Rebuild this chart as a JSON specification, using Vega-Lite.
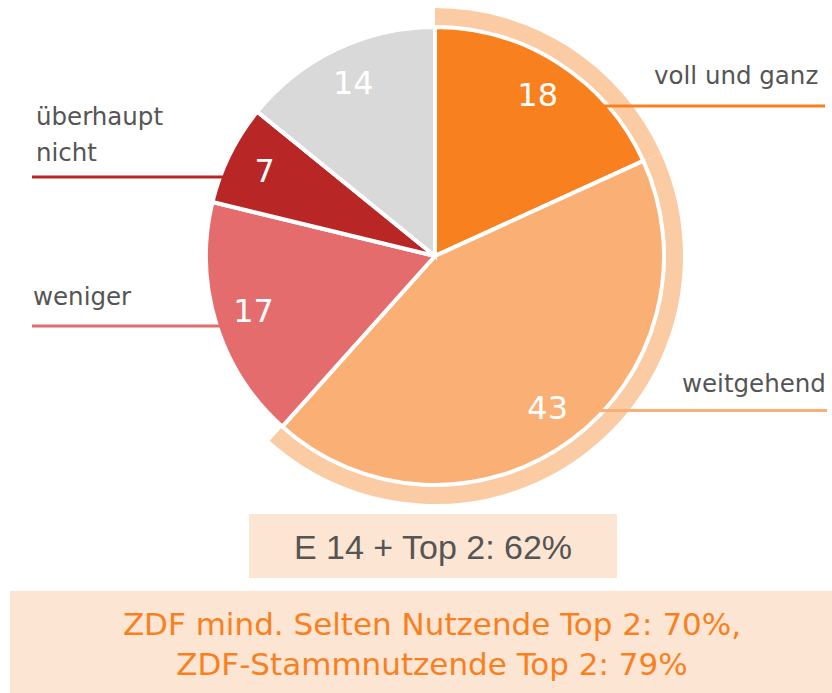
{
  "$schema": "https://vega.github.io/schema/vega-lite/v6.json",
  "width": 832,
  "height": 693,
  "padding": 0,
  "autosize": {"type": "fit", "contains": "padding"},
  "background": "white",
  "config": {"view": {"stroke": null}},
  "datasets": {
    "pie": [
      {"cat": "voll und ganz", "value": 18, "idx": 1},
      {"cat": "weitgehend", "value": 43, "idx": 2},
      {"cat": "weniger", "value": 17, "idx": 3},
      {"cat": "überhaupt nicht", "value": 7, "idx": 4},
      {"cat": "keine Angabe", "value": 14, "idx": 5}
    ]
  },
  "layer": [
    {
      "data": {"name": "pie"},
      "mark": {"type": "arc", "outerRadius": 229, "stroke": "white", "strokeWidth": 4},
      "encoding": {
        "x": {"datum": 435, "type": "quantitative", "scale": {"domain": [0, 832], "nice": false, "zero": false}, "axis": null},
        "y": {"datum": 256, "type": "quantitative", "scale": {"domain": [0, 693], "nice": false, "zero": false, "reverse": true}, "axis": null},
        "theta": {"field": "value", "type": "quantitative", "stack": true},
        "order": {"field": "idx", "type": "quantitative"},
        "color": {
          "field": "cat", "type": "nominal", "legend": null,
          "scale": {
            "domain": ["voll und ganz", "weitgehend", "weniger", "überhaupt nicht", "keine Angabe"],
            "range": ["#F9801E", "#FAB074", "#E46C6C", "#B92626", "#D9D9D9"]
          }
        }
      }
    },
    {
      "data": {"name": "pie"},
      "mark": {"type": "arc", "outerRadius": 248, "innerRadius": 231},
      "encoding": {
        "x": {"datum": 435, "type": "quantitative", "scale": {"domain": [0, 832], "nice": false, "zero": false}, "axis": null},
        "y": {"datum": 256, "type": "quantitative", "scale": {"domain": [0, 693], "nice": false, "zero": false, "reverse": true}, "axis": null},
        "theta": {"field": "value", "type": "quantitative", "stack": true},
        "order": {"field": "idx", "type": "quantitative"},
        "detail": {"field": "cat", "type": "nominal"},
        "color": {
          "condition": {"test": "datum.cat === 'voll und ganz' || datum.cat === 'weitgehend'", "value": "#FBCBA4"},
          "value": "transparent"
        }
      }
    },
    {
      "data": {"name": "pie"},
      "mark": {"type": "text", "radius": 190, "font": "DejaVu Sans", "fontSize": 32, "color": "white", "align": "center", "baseline": "middle"},
      "encoding": {
        "x": {"datum": 435, "type": "quantitative", "scale": {"domain": [0, 832], "nice": false, "zero": false}, "axis": null},
        "y": {"datum": 256, "type": "quantitative", "scale": {"domain": [0, 693], "nice": false, "zero": false, "reverse": true}, "axis": null},
        "theta": {"field": "value", "type": "quantitative", "stack": true},
        "order": {"field": "idx", "type": "quantitative"},
        "detail": {"field": "cat", "type": "nominal"},
        "text": {"field": "value", "type": "quantitative"}
      }
    },
    {
      "data": {"values": [{"cat": "voll und ganz"}]},
      "mark": {"type": "rule", "color": "#F9801E", "strokeWidth": 3},
      "encoding": {
        "x": {"datum": 603, "type": "quantitative", "scale": {"domain": [0, 832], "nice": false, "zero": false}, "axis": null},
        "x2": {"datum": 825},
        "y": {"datum": 106, "type": "quantitative", "scale": {"domain": [0, 693], "nice": false, "zero": false, "reverse": true}, "axis": null}
      }
    },
    {
      "data": {"values": [{"cat": "weitgehend"}]},
      "mark": {"type": "rule", "color": "#FAB074", "strokeWidth": 3},
      "encoding": {
        "x": {"datum": 598, "type": "quantitative", "scale": {"domain": [0, 832], "nice": false, "zero": false}, "axis": null},
        "x2": {"datum": 827},
        "y": {"datum": 410.5, "type": "quantitative", "scale": {"domain": [0, 693], "nice": false, "zero": false, "reverse": true}, "axis": null}
      }
    },
    {
      "data": {"values": [{"cat": "überhaupt nicht"}]},
      "mark": {"type": "rule", "color": "#B92626", "strokeWidth": 3},
      "encoding": {
        "x": {"datum": 32, "type": "quantitative", "scale": {"domain": [0, 832], "nice": false, "zero": false}, "axis": null},
        "x2": {"datum": 225},
        "y": {"datum": 177, "type": "quantitative", "scale": {"domain": [0, 693], "nice": false, "zero": false, "reverse": true}, "axis": null}
      }
    },
    {
      "data": {"values": [{"cat": "weniger"}]},
      "mark": {"type": "rule", "color": "#E46C6C", "strokeWidth": 3},
      "encoding": {
        "x": {"datum": 32, "type": "quantitative", "scale": {"domain": [0, 832], "nice": false, "zero": false}, "axis": null},
        "x2": {"datum": 222},
        "y": {"datum": 326, "type": "quantitative", "scale": {"domain": [0, 693], "nice": false, "zero": false, "reverse": true}, "axis": null}
      }
    },
    {
      "data": {"values": [{"label": "voll und ganz"}]},
      "mark": {"type": "text", "font": "DejaVu Sans", "fontSize": 24.5, "color": "#555555", "align": "left", "baseline": "alphabetic"},
      "encoding": {
        "x": {"datum": 654, "type": "quantitative", "scale": {"domain": [0, 832], "nice": false, "zero": false}, "axis": null},
        "y": {"datum": 84, "type": "quantitative", "scale": {"domain": [0, 693], "nice": false, "zero": false, "reverse": true}, "axis": null},
        "text": {"field": "label"}
      }
    },
    {
      "data": {"values": [{"label": "weitgehend"}]},
      "mark": {"type": "text", "font": "DejaVu Sans", "fontSize": 24.5, "color": "#555555", "align": "left", "baseline": "alphabetic"},
      "encoding": {
        "x": {"datum": 682, "type": "quantitative", "scale": {"domain": [0, 832], "nice": false, "zero": false}, "axis": null},
        "y": {"datum": 392, "type": "quantitative", "scale": {"domain": [0, 693], "nice": false, "zero": false, "reverse": true}, "axis": null},
        "text": {"field": "label"}
      }
    },
    {
      "data": {"values": [{"label": "überhaupt nicht"}]},
      "mark": {"type": "text", "font": "DejaVu Sans", "fontSize": 24.5, "color": "#555555", "align": "left", "baseline": "alphabetic", "lineHeight": 36, "text": ["überhaupt", "nicht"]},
      "encoding": {
        "x": {"datum": 36, "type": "quantitative", "scale": {"domain": [0, 832], "nice": false, "zero": false}, "axis": null},
        "y": {"datum": 125, "type": "quantitative", "scale": {"domain": [0, 693], "nice": false, "zero": false, "reverse": true}, "axis": null}
      }
    },
    {
      "data": {"values": [{"label": "weniger"}]},
      "mark": {"type": "text", "font": "DejaVu Sans", "fontSize": 24.5, "color": "#555555", "align": "left", "baseline": "alphabetic"},
      "encoding": {
        "x": {"datum": 33, "type": "quantitative", "scale": {"domain": [0, 832], "nice": false, "zero": false}, "axis": null},
        "y": {"datum": 305, "type": "quantitative", "scale": {"domain": [0, 693], "nice": false, "zero": false, "reverse": true}, "axis": null},
        "text": {"field": "label"}
      }
    },
    {
      "data": {"values": [{"box": "E 14"}]},
      "mark": {"type": "rect", "color": "#FDE5D3"},
      "encoding": {
        "x": {"datum": 249, "type": "quantitative", "scale": {"domain": [0, 832], "nice": false, "zero": false}, "axis": null},
        "x2": {"datum": 617},
        "y": {"datum": 514, "type": "quantitative", "scale": {"domain": [0, 693], "nice": false, "zero": false, "reverse": true}, "axis": null},
        "y2": {"datum": 578}
      }
    },
    {
      "data": {"values": [{"label": "E 14 + Top 2: 62%"}]},
      "mark": {"type": "text", "font": "Liberation Sans", "fontSize": 34, "color": "#555555", "align": "center", "baseline": "alphabetic"},
      "encoding": {
        "x": {"datum": 433, "type": "quantitative", "scale": {"domain": [0, 832], "nice": false, "zero": false}, "axis": null},
        "y": {"datum": 559, "type": "quantitative", "scale": {"domain": [0, 693], "nice": false, "zero": false, "reverse": true}, "axis": null},
        "text": {"field": "label"}
      }
    },
    {
      "data": {"values": [{"box": "ZDF"}]},
      "mark": {"type": "rect", "color": "#FDE5D3"},
      "encoding": {
        "x": {"datum": 10, "type": "quantitative", "scale": {"domain": [0, 832], "nice": false, "zero": false}, "axis": null},
        "x2": {"datum": 832},
        "y": {"datum": 591, "type": "quantitative", "scale": {"domain": [0, 693], "nice": false, "zero": false, "reverse": true}, "axis": null},
        "y2": {"datum": 693}
      }
    },
    {
      "data": {"values": [{"label": "ZDF"}]},
      "mark": {"type": "text", "font": "DejaVu Sans", "fontSize": 31, "color": "#F98020", "align": "center", "baseline": "alphabetic", "lineHeight": 40, "text": ["ZDF mind. Selten Nutzende Top 2: 70%,", "ZDF-Stammnutzende Top 2: 79%"]},
      "encoding": {
        "x": {"datum": 432, "type": "quantitative", "scale": {"domain": [0, 832], "nice": false, "zero": false}, "axis": null},
        "y": {"datum": 635, "type": "quantitative", "scale": {"domain": [0, 693], "nice": false, "zero": false, "reverse": true}, "axis": null}
      }
    }
  ]
}
